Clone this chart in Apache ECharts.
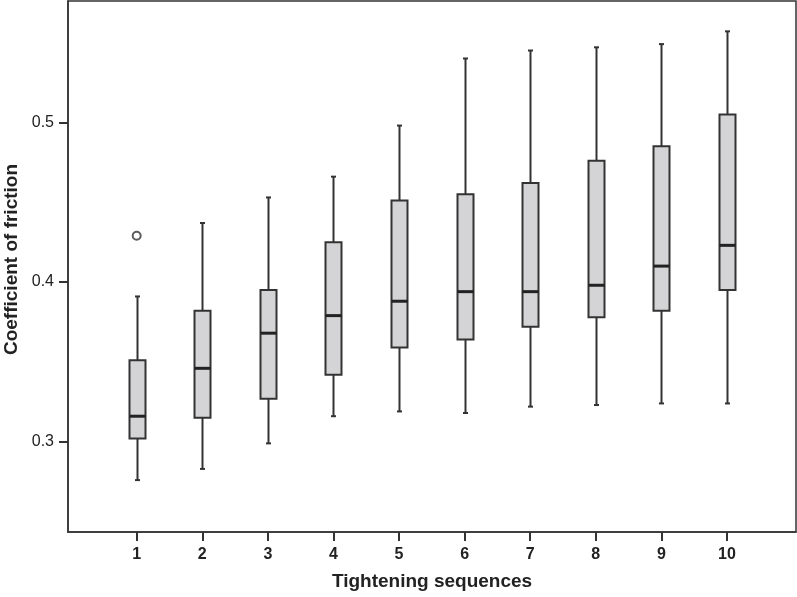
<!DOCTYPE html>
<html>
<head>
<meta charset="utf-8">
<script src="https://cdn.jsdelivr.net/npm/echarts@6/dist/echarts.min.js"></script>
<style>
html,body{margin:0;padding:0;background:#fff;}
#chart{width:797px;height:597px;}
</style>
</head>
<body>
<div id="chart"></div>
<script>
const sequences = [1, 2, 3, 4, 5, 6, 7, 8, 9, 10];
const minV   = [0.276, 0.283, 0.299, 0.316, 0.319, 0.318, 0.322, 0.323, 0.324, 0.324];
const q1V    = [0.302, 0.315, 0.327, 0.342, 0.359, 0.364, 0.372, 0.378, 0.382, 0.395];
const medV   = [0.316, 0.346, 0.368, 0.379, 0.388, 0.394, 0.394, 0.398, 0.410, 0.423];
const q3V    = [0.351, 0.382, 0.395, 0.425, 0.451, 0.455, 0.462, 0.476, 0.485, 0.505];
const maxV   = [0.391, 0.437, 0.453, 0.466, 0.498, 0.540, 0.545, 0.547, 0.549, 0.557];
const outliers = [[1, 0.429]];
const yTicks = [0.3, 0.4, 0.5];

const boxData = sequences.map((s, i) => [s, minV[i], q1V[i], medV[i], q3V[i], maxV[i]]);

const FONT = "'Liberation Sans', Arial, Helvetica, sans-serif";
const DARK = '#333333';

function renderItem(params, api) {
  const x = api.value(0);
  const pMin = api.coord([x, api.value(1)]);
  const pQ1 = api.coord([x, api.value(2)]);
  const pMed = api.coord([x, api.value(3)]);
  const pQ3 = api.coord([x, api.value(4)]);
  const pMax = api.coord([x, api.value(5)]);
  const cx = Math.round(pMed[0]) + 0.5;
  const hw = 8;
  const cap = 2.5;
  const lineStyle = { stroke: DARK, lineWidth: 2 };
  return {
    type: 'group',
    children: [
      { type: 'line', shape: { x1: cx, y1: pMax[1], x2: cx, y2: pQ3[1] }, style: lineStyle },
      { type: 'line', shape: { x1: cx, y1: pQ1[1], x2: cx, y2: pMin[1] }, style: lineStyle },
      { type: 'line', shape: { x1: cx - cap, y1: pMax[1], x2: cx + cap, y2: pMax[1] }, style: lineStyle },
      { type: 'line', shape: { x1: cx - cap, y1: pMin[1], x2: cx + cap, y2: pMin[1] }, style: lineStyle },
      { type: 'rect', shape: { x: cx - hw, y: pQ3[1], width: 2 * hw, height: pQ1[1] - pQ3[1] },
        style: { fill: '#d4d4d6', stroke: DARK, lineWidth: 2 } },
      { type: 'line', shape: { x1: cx - hw, y1: pMed[1], x2: cx + hw, y2: pMed[1] },
        style: { stroke: '#222222', lineWidth: 3 } }
    ]
  };
}

const chart = echarts.init(document.getElementById('chart'), null, { renderer: 'canvas' });
chart.setOption({
  animation: false,
  backgroundColor: '#ffffff',
  grid: {
    left: 68, right: 1, top: 1, bottom: 65,
    show: true, borderColor: DARK, borderWidth: 1.5,
    containLabel: false, outerBoundsMode: 'none'
  },
  xAxis: {
    type: 'value',
    min: -0.047,
    max: 11.052,
    name: 'Tightening sequences',
    nameLocation: 'middle',
    nameGap: 40,
    nameTextStyle: { fontFamily: FONT, fontSize: 19, fontWeight: 'bold', color: '#222' },
    axisLine: { show: true, onZero: false, lineStyle: { color: DARK, width: 1.5 } },
    axisTick: { show: true, length: 9, lineStyle: { color: DARK, width: 2 }, customValues: sequences },
    axisLabel: { show: true, margin: 15, fontFamily: FONT, fontSize: 16, fontWeight: 'bold', color: '#222',
      customValues: sequences, formatter: v => String(v) },
    splitLine: { show: false }
  },
  yAxis: {
    type: 'value',
    min: 0.2435,
    max: 0.576,
    name: 'Coefficient of friction',
    nameLocation: 'middle',
    nameGap: 41,
    nameTextStyle: { fontFamily: FONT, fontSize: 19, fontWeight: 'bold', color: '#222', padding: [0, 0, 0, 14] },
    axisLine: { show: true, onZero: false, lineStyle: { color: DARK, width: 1.5 } },
    axisTick: { show: true, length: 9, lineStyle: { color: DARK, width: 2 }, customValues: yTicks },
    axisLabel: { show: true, margin: 14, fontFamily: FONT, fontSize: 16, color: '#222',
      customValues: yTicks, formatter: v => v.toFixed(1) },
    splitLine: { show: false }
  },
  series: [
    {
      type: 'custom',
      renderItem: renderItem,
      encode: { x: 0, y: [1, 2, 3, 4, 5] },
      data: boxData,
      clip: true
    },
    {
      type: 'scatter',
      data: outliers,
      symbol: 'circle',
      symbolSize: 8,
      itemStyle: { color: '#ffffff', borderColor: DARK, borderWidth: 2 },
      z: 5
    }
  ]
});
</script>
</body>
</html>
